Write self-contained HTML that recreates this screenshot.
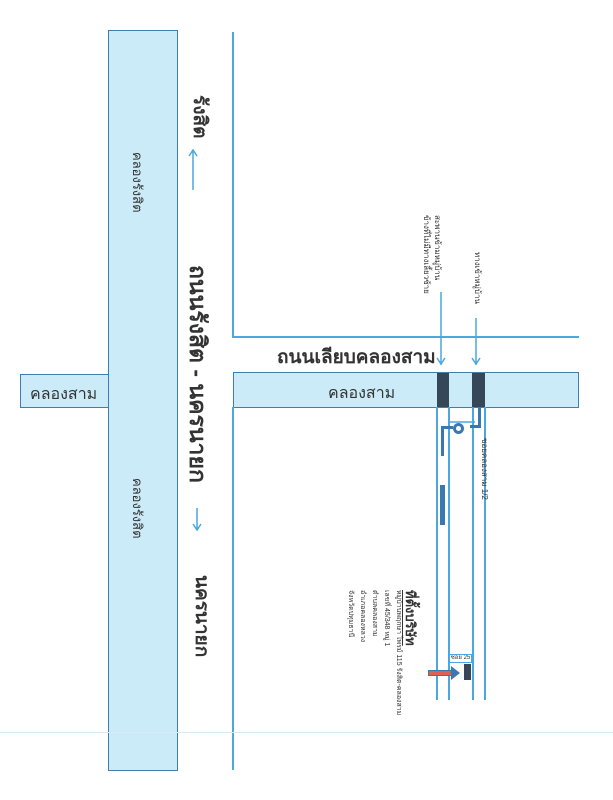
<!DOCTYPE html>
<html><head><meta charset="utf-8"><style>
body{margin:0;width:613px;height:800px;background:#fff;position:relative;overflow:hidden;font-family:"Liberation Sans","DejaVu Sans",sans-serif;color:#333}
div{position:absolute;box-sizing:border-box}
.c{background:#cbebf8;border:1.5px solid #3d7fb0}
.v{writing-mode:vertical-rl;white-space:nowrap}
.l{background:#4aa8de}
svg{position:absolute;left:0;top:0}
</style></head><body>
<div class="c" style="left:108px;top:30px;width:70px;height:741px"></div>
<div class="c" style="left:20px;top:374px;width:89px;height:34px"></div>
<div class="c" style="left:233px;top:372px;width:346px;height:36px"></div>
<div class="l" style="left:232px;top:32px;width:1.5px;height:305px"></div>
<div class="l" style="left:232px;top:336px;width:347px;height:1.5px"></div>
<div class="l" style="left:232px;top:407px;width:1.5px;height:363px"></div>
<div style="left:0;top:732px;width:613px;height:1px;background:#d5ebf5"></div>
<div class="l" style="left:436px;top:407px;width:1.5px;height:293px"></div>
<div class="l" style="left:448px;top:407px;width:1.5px;height:293px"></div>
<div class="l" style="left:472px;top:407px;width:1.5px;height:293px"></div>
<div class="l" style="left:484px;top:407px;width:1.5px;height:293px"></div>
<div style="left:437px;top:373px;width:12px;height:34px;background:#37475a"></div>
<div style="left:472px;top:373px;width:13px;height:34px;background:#37475a"></div>
<svg width="613" height="800" fill="none" stroke="#4aa8de" stroke-width="1.5">
<path d="M441 292V365M437 358l4 6 4-6"/>
<path d="M476 318V365M472 358l4 6 4-6"/>
<path d="M193 150V190M189 156l4-6 4 6"/>
<path d="M197 508V530M193 524l4 6 4-6"/>
<path d="M449 422H475"/>
</svg>
<div style="left:453px;top:423px;width:11px;height:11px;border:3px solid #3c78b0;border-radius:50%"></div>
<div style="left:441px;top:426px;width:12px;height:3px;background:#3c78b0"></div>
<div style="left:441px;top:426px;width:3px;height:30px;background:#3c78b0"></div>
<div style="left:478px;top:408px;width:3px;height:20px;background:#3c78b0"></div>
<div style="left:470px;top:425px;width:11px;height:3px;background:#3c78b0"></div>
<div style="left:440px;top:485px;width:5px;height:40px;background:#3c78b0"></div>
<div style="left:449px;top:654px;width:23px;height:9px;border:1px solid #4aa8de;font-size:6px;line-height:7px;text-align:center;white-space:nowrap;overflow:hidden">ซอย 25</div>
<div style="left:428px;top:670px;width:24px;height:6px;background:#e06050;border:1px solid #3c78b0"></div>
<div style="left:451px;top:666px;width:0;height:0;border-top:7px solid transparent;border-bottom:7px solid transparent;border-left:9px solid #3c78b0"></div>
<div style="left:464px;top:664px;width:7px;height:16px;background:#37475a"></div>
<div class="v" style="left:184px;top:95px;font-size:19px;font-weight:bold">รังสิต</div>
<div class="v" style="left:180px;top:265px;font-size:23px;font-weight:bold">ถนนรังสิต - นครนายก</div>
<div class="v" style="left:186px;top:575px;font-size:19px;font-weight:bold">นครนายก</div>
<div class="v" style="left:127px;top:152px;font-size:13px">คลองรังสิต</div>
<div class="v" style="left:127px;top:478px;font-size:13px">คลองรังสิต</div>
<div style="left:277px;top:342px;font-size:19px;font-weight:bold;white-space:nowrap">ถนนเลียบคลองสาม</div>
<div style="left:328px;top:381px;font-size:16px;white-space:nowrap">คลองสาม</div>
<div style="left:30px;top:382px;font-size:16px;white-space:nowrap">คลองสาม</div>
<div class="v" style="left:421px;top:215px;font-size:8px;line-height:11px">สะพานข้ามหมู่บ้าน<br>ข้างที่ไม่มีทางเลี้ยวซ้าย</div>
<div class="v" style="left:471px;top:252px;font-size:8px">ทางเข้าหมู่บ้าน</div>
<div class="v" style="left:478px;top:438px;font-size:8px">ซอยคลองสาม 1/2</div>
<div class="v" style="left:344px;top:590px;font-size:7px;line-height:12px">
<span style="font-size:13px;font-weight:bold;text-decoration:underline">ที่ตั้งบริษัท</span><br>หมู่บ้านพฤกษา ไพรม์ 115 รังสิต-คลองสาม<br>เลขที่ 45/348 หมู่ 1<br>ตำบลคลองสาม<br>อำเภอคลองหลวง<br>จังหวัดปทุมธานี</div>
</body></html>
